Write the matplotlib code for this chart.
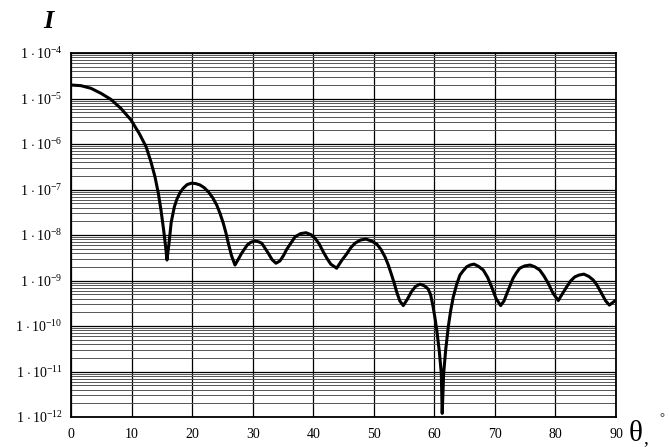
import numpy as np
import matplotlib
matplotlib.use("Agg")
import matplotlib.pyplot as plt
from matplotlib.ticker import LogLocator, FixedLocator, FuncFormatter, NullFormatter

plt.rcParams['font.family'] = ['Liberation Serif', 'DejaVu Serif']
plt.rcParams['mathtext.fontset'] = 'custom'
plt.rcParams['mathtext.rm'] = 'Liberation Serif'
plt.rcParams['mathtext.it'] = 'Liberation Serif:italic'

# angle (degrees) and log10 of intensity
theta = [0, 1.65, 3.3, 4.95, 6.6, 8.26, 9.9, 11.28, 12.4, 13.2, 13.87, 14.42, 14.86, 15.3,
         15.63, 15.85, 16.19, 16.55, 17.07, 17.5, 18.0, 18.55, 19.2, 19.93, 20.6, 21.3,
         22.0, 22.68, 23.4, 24.06, 24.6, 25.15, 25.6, 25.98, 26.5, 27.08, 27.6, 28.18,
         29.1, 29.7, 30.38, 31.0, 31.5, 32.0, 32.58, 33.2, 33.85, 34.5, 35.1, 35.6, 36.2,
         37.0, 37.9, 38.8, 39.6, 40.3, 41.0, 41.66, 42.3, 42.9, 43.87, 44.7, 45.5, 46.2,
         46.9, 47.8, 48.7, 49.6, 50.5, 51.2, 51.85, 52.4, 52.95, 53.4, 53.78, 54.3, 54.87,
         55.5, 56.25, 56.9, 57.65, 58.4, 59.0, 59.4, 59.8, 60.1, 60.4, 60.8, 61.15, 61.3,
         61.54, 61.87, 62.3, 62.7, 63.13, 63.7, 64.23, 64.8, 65.33, 65.9, 66.55, 67.3,
         68.08, 68.8, 69.46, 70.2, 70.95, 71.5, 72.2, 73.0, 73.5, 74.1, 74.9, 75.8, 76.6,
         77.4, 78.1, 78.8, 79.6, 80.47, 81.1, 81.85, 82.5, 83.2, 83.9, 84.7, 85.5, 86.25,
         86.9, 87.6, 88.3, 88.9, 89.5, 90]
log_I = [-4.703, -4.718, -4.776, -4.886, -5.02, -5.22, -5.47, -5.77, -6.06, -6.39, -6.72,
         -7.08, -7.45, -7.89, -8.26, -8.55, -8.18, -7.72, -7.38, -7.21, -7.07, -6.97, -6.89,
         -6.86, -6.87, -6.90, -6.96, -7.05, -7.18, -7.34, -7.52, -7.74, -7.96, -8.18, -8.45,
         -8.66, -8.54, -8.40, -8.22, -8.16, -8.13, -8.15, -8.18, -8.28, -8.40, -8.54, -8.62,
         -8.57, -8.45, -8.32, -8.20, -8.04, -7.97, -7.95, -7.99, -8.07, -8.20, -8.37, -8.52,
         -8.64, -8.73, -8.56, -8.42, -8.28, -8.18, -8.11, -8.09, -8.13, -8.20, -8.32, -8.48,
         -8.66, -8.88, -9.07, -9.25, -9.45, -9.55, -9.42, -9.24, -9.13, -9.08, -9.12, -9.19,
         -9.32, -9.58, -9.82, -10.09, -10.53, -11.04, -11.92, -11.04, -10.53, -10.02, -9.66,
         -9.36, -9.08, -8.88, -8.78, -8.70, -8.66, -8.64, -8.69, -8.77, -8.93, -9.14, -9.40,
         -9.55, -9.45, -9.21, -8.95, -8.84, -8.73, -8.68, -8.66, -8.70, -8.77, -8.90, -9.06,
         -9.28, -9.44, -9.30, -9.14, -9.01, -8.92, -8.88, -8.86, -8.91, -8.99, -9.11, -9.28,
         -9.45, -9.54, -9.48, -9.43]

x_ticks = [0, 10, 20, 30, 40, 50, 60, 70, 80, 90]
y_exps = [-12, -11, -10, -9, -8, -7, -6, -5, -4]

intensity = [10 ** v for v in log_I]

fig = plt.figure(figsize=(6.69, 4.47), dpi=100)
ax = fig.add_axes([0.1061, 0.0671, 0.8147, 0.8143])
ax.set_yscale('log')
ax.set_xlim(0, 90)
ax.set_ylim(10.0 ** y_exps[0], 10.0 ** y_exps[-1])

ax.xaxis.set_major_locator(FixedLocator(x_ticks))
ax.yaxis.set_major_locator(FixedLocator([10.0 ** e for e in y_exps]))
ax.yaxis.set_minor_locator(LogLocator(base=10, subs=np.arange(2, 10), numticks=100))
ax.yaxis.set_minor_formatter(NullFormatter())
ax.yaxis.set_major_formatter(FuncFormatter(
    lambda v, p: r"$1\,\cdot 10^{\mathrm{-%d}}$" % round(-np.log10(v))))

ax.grid(True, which='major', axis='both', color='black', lw=0.9)
ax.grid(True, which='minor', axis='y', color='#555555', lw=0.7)
ax.set_axisbelow(True)

ax.tick_params(which='both', length=0)
ax.tick_params(axis='y', labelsize=10, pad=6)
ax.tick_params(axis='x', labelsize=10, pad=8)
for s in ax.spines.values():
    s.set_linewidth(1.3)
    s.set_color('black')

ax.plot(theta, intensity, color='black', lw=2.2, solid_joinstyle='round',
        solid_capstyle='round')

fig.text(48 / 669, 1 - 21 / 447, 'I', fontsize=19, fontweight='bold', fontstyle='italic',
         ha='center', va='center')
fig.text(636 / 669, 1 - 434 / 447, 'θ', fontsize=21, ha='center', va='center')
fig.text(646 / 669, 1 - 439 / 447, ',', fontsize=14, ha='center', va='center')
fig.text(662 / 669, 1 - 418 / 447, '°', fontsize=9, ha='center', va='center')

fig.savefig('out.png', dpi=100)
